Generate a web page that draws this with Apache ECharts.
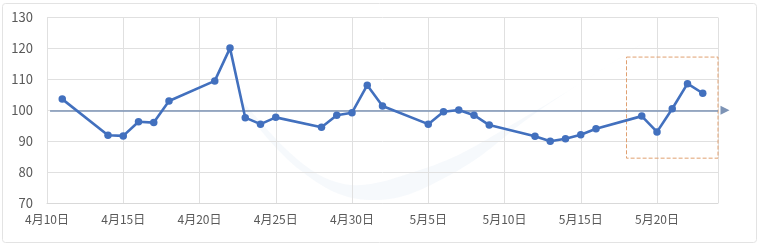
<!DOCTYPE html>
<html><head><meta charset="utf-8">
<script src="https://cdn.jsdelivr.net/npm/echarts@6/dist/echarts.min.js"></script>
<style>html,body{margin:0;padding:0;background:#fff}#c{width:760px;height:246px}</style>
</head><body><div id="c"></div>
<script>
var dates = ['4-11','4-14','4-15','4-16','4-17','4-18','4-21','4-22','4-23','4-24','4-25','4-28','4-29','4-30','5-1','5-2','5-5','5-6','5-7','5-8','5-9','5-12','5-13','5-14','5-15','5-16','5-19','5-20','5-21','5-22','5-23'];
var values = [103.6,91.9,91.7,96.3,96.0,103.0,109.5,120.1,97.6,95.5,97.7,94.5,98.4,99.2,108.1,101.4,95.5,99.5,100.1,98.4,95.2,91.6,90.0,90.8,92.1,94.0,98.1,93.0,100.5,108.6,105.5];
var yTicks = [70,80,90,100,110,120,130];
var baseLine = 100;
var boxRange = {from:'5-18', to:'5-24', low:84.5, high:117.2};

var YEAR = 2024, START = Date.UTC(YEAR,3,10);
function dayIdx(s){var p=s.split('-');return (Date.UTC(YEAR,+p[0]-1,+p[1])-START)/86400000;}
function dayLabel(v){var d=new Date(START+v*86400000);return (d.getUTCMonth()+1)+'月'+d.getUTCDate()+'日';}
var pts = dates.map(function(d,i){return [dayIdx(d), values[i]];});

var font = '"Microsoft YaHei","Noto Sans CJK SC",sans-serif';
var chart = echarts.init(document.getElementById('c'));
chart.setOption({
  animation:false,
  graphic:[
    {type:'rect',shape:{x:2.5,y:3.5,width:754,height:239,r:3},style:{fill:'none',stroke:'#e3e3e3',lineWidth:1},z:-10},
    {type:'polygon',shape:{points:[[240,100],[300,170],[370,200],[450,175],[540,110],[640,45],[520,120],[420,170],[330,180]],smooth:0.4},
     style:{fill:'rgba(215,228,242,0.22)'},z:-5}
  ],
  grid:{left:47,right:42,top:17.5,bottom:43},
  xAxis:{type:'value',min:0,max:44,interval:5,
    axisLine:{show:true,lineStyle:{color:'#d9d9d9'}},axisTick:{show:false},
    splitLine:{show:true,lineStyle:{color:'#e0e0e0'}},
    axisLabel:{formatter:dayLabel,color:'#595959',fontSize:12,fontFamily:font,margin:10,showMaxLabel:false}},
  yAxis:{type:'value',min:70,max:130,interval:10,
    axisLine:{show:false},axisTick:{show:false},
    splitLine:{lineStyle:{color:'#e0e0e0'}},
    axisLabel:{formatter:function(v){return yTicks.indexOf(v)>=0?String(v):'';},color:'#595959',fontSize:13,fontFamily:font,margin:14}},
  series:[{type:'line',data:pts,symbol:'circle',symbolSize:7.5,
    lineStyle:{color:'#4270be',width:2.6},itemStyle:{color:'#4270be'},z:5,
    markLine:{silent:true,symbol:['none','triangle'],symbolSize:[9,9],symbolOffset:[0,[0,-7]],
      lineStyle:{color:'#7d93b5',width:1.5,type:'solid'},label:{show:false},
      data:[[{coord:[0.2,baseLine]},{coord:[44,baseLine],itemStyle:{color:'#4472c4'}}]]},
    markArea:{silent:true,itemStyle:{color:'rgba(0,0,0,0)',borderColor:'#e0a070',borderWidth:1,borderType:'dashed'},
      data:[[{coord:[dayIdx(boxRange.from),boxRange.high]},{coord:[dayIdx(boxRange.to),boxRange.low]}]]}
  }]
});
</script></body></html>
